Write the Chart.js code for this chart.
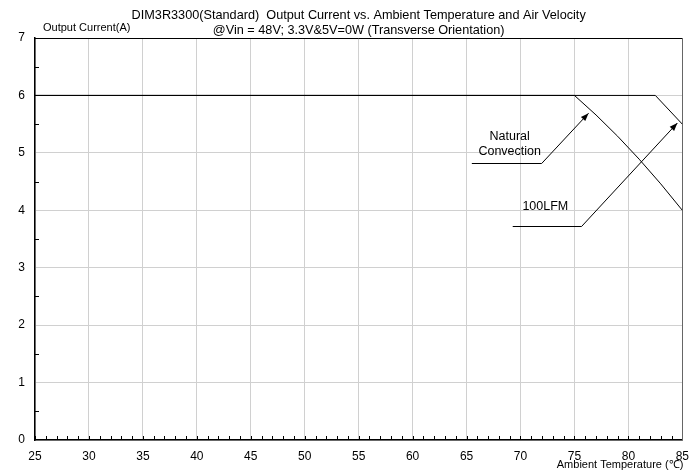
<!DOCTYPE html>
<html>
<head>
<meta charset="utf-8">
<script src="https://cdn.jsdelivr.net/npm/chart.js@4/dist/chart.umd.min.js"></script>
<style>
  html, body { margin: 0; padding: 0; background: #fff; }
  #grafico { display: block; }
</style>
</head>
<body>
<canvas id="grafico" width="698" height="470"></canvas>
<script>
// datos
const naturalTemp = [25, 75, 77, 79, 81, 83, 85];
const naturalCurrent = [6, 6, 5.66, 5.29, 4.89, 4.46, 4];
const lfmTemp = [25, 82.5, 85];
const lfmCurrent = [6, 6, 5.5];

const xTicks = [25, 30, 35, 40, 45, 50, 55, 60, 65, 70, 75, 80, 85];
const yTicks = [0, 1, 2, 3, 4, 5, 6, 7];

const titleLines = [
    'DIM3R3300(Standard)  Output Current vs. Ambient Temperature and Air Velocity',
    '@Vin = 48V; 3.3V&5V=0W (Transverse Orientation)'
];
const yTitle = 'Output Current(A)';
const xTitle = 'Ambient Temperature (\u2103)';

// flechas de las etiquetas, en unidades de los ejes
const callouts = [
    { text: ['Natural', 'Convection'], textAt: [69.0, 5.29], path: [[65.49, 4.82], [71.96, 4.82], [76.31, 5.69]] },
    { text: ['100LFM'], textAt: [72.3, 4.06], path: [[69.28, 3.73], [75.66, 3.73], [84.54, 5.52]] }
];

const FONT = '"Liberation Sans", Arial, sans-serif';

const toPoints = (xs, ys) => xs.map((x, i) => ({ x: x, y: ys[i] }));

const decorPlugin = {
    id: 'decor',
    beforeDatasetsDraw(chart) {
        const { ctx, chartArea: a, scales } = chart;
        const x = scales.x, y = scales.y;
        ctx.save();
        // marcas menores
        ctx.strokeStyle = '#000';
        ctx.lineWidth = 1;
        ctx.beginPath();
        for (let t = xTicks[0]; t <= xTicks[xTicks.length - 1]; t++) {
            const px = Math.round(x.getPixelForValue(t)) + 0.5;
            ctx.moveTo(px, a.bottom);
            ctx.lineTo(px, a.bottom - 4);
        }
        for (let v = 0.5; v < yTicks[yTicks.length - 1]; v += 1) {
            const py = Math.round(y.getPixelForValue(v)) + 0.5;
            ctx.moveTo(a.left, py);
            ctx.lineTo(a.left + 4, py);
        }
        ctx.stroke();
        // borde superior y derecho
        ctx.beginPath();
        ctx.strokeStyle = '#000';
        ctx.moveTo(a.left, Math.round(a.top) + 0.5);
        ctx.lineTo(a.right, Math.round(a.top) + 0.5);
        ctx.stroke();
        ctx.beginPath();
        ctx.strokeStyle = '#666';
        ctx.moveTo(Math.round(a.right) + 0.5, a.top);
        ctx.lineTo(Math.round(a.right) + 0.5, a.bottom);
        ctx.stroke();
        ctx.restore();
    },
    afterDraw(chart) {
        const { ctx, chartArea: a, scales } = chart;
        const x = scales.x, y = scales.y;
        ctx.save();
        ctx.fillStyle = '#000';
        ctx.textAlign = 'center';
        ctx.textBaseline = 'middle';
        ctx.font = '12.7px ' + FONT;
        const cx = (a.left + a.right) / 2;
        ctx.fillText(titleLines[0], cx, 15);
        ctx.fillText(titleLines[1], cx, 30);

        ctx.font = '11px ' + FONT;
        ctx.textAlign = 'left';
        ctx.fillText(yTitle, 43, 28);
        ctx.textAlign = 'right';
        ctx.fillText(xTitle, a.right + 1, 465);

        // etiquetas con flecha
        callouts.forEach(c => {
            ctx.font = '12.5px ' + FONT;
            ctx.textAlign = 'center';
            const tx = x.getPixelForValue(c.textAt[0]);
            const ty = y.getPixelForValue(c.textAt[1]);
            c.text.forEach((line, i) => ctx.fillText(line, tx, ty + i * 15));

            const pts = c.path.map(p => [x.getPixelForValue(p[0]), y.getPixelForValue(p[1])]);
            ctx.strokeStyle = '#000';
            ctx.lineWidth = 1;
            ctx.beginPath();
            ctx.moveTo(pts[0][0], Math.round(pts[0][1]) + 0.5);
            ctx.lineTo(pts[1][0], Math.round(pts[1][1]) + 0.5);
            ctx.lineTo(pts[2][0], pts[2][1]);
            ctx.stroke();
            const [x1, y1] = pts[1];
            const [x2, y2] = pts[2];
            const ang = Math.atan2(y2 - y1, x2 - x1);
            const len = 8, w = 3;
            ctx.beginPath();
            ctx.moveTo(x2, y2);
            ctx.lineTo(x2 - len * Math.cos(ang) + w * Math.sin(ang), y2 - len * Math.sin(ang) - w * Math.cos(ang));
            ctx.lineTo(x2 - len * Math.cos(ang) - w * Math.sin(ang), y2 - len * Math.sin(ang) + w * Math.cos(ang));
            ctx.closePath();
            ctx.fill();
        });
        ctx.restore();
    }
};

const ctx = document.getElementById('grafico').getContext('2d');

new Chart(ctx, {
    type: 'scatter',
    data: {
        datasets: [
            {
                label: 'Natural Convection',
                data: toPoints(naturalTemp, naturalCurrent),
                showLine: true,
                borderColor: '#000',
                borderWidth: 1,
                pointRadius: 0,
                tension: 0
            },
            {
                label: '100LFM',
                data: toPoints(lfmTemp, lfmCurrent),
                showLine: true,
                borderColor: '#000',
                borderWidth: 1,
                pointRadius: 0,
                tension: 0
            }
        ]
    },
    options: {
        responsive: false,
        devicePixelRatio: 1,
        animation: false,
        layout: { padding: { top: 38, right: 14, left: 0, bottom: 0 } },
        plugins: {
            legend: { display: false },
            title: { display: false },
            tooltip: { enabled: false }
        },
        scales: {
            x: {
                type: 'linear',
                min: xTicks[0],
                max: xTicks[xTicks.length - 1],
                afterFit: scale => { scale.height = 30; },
                afterBuildTicks: scale => { scale.ticks = xTicks.map(v => ({ value: v })); },
                ticks: {
                    autoSkip: false,
                    maxRotation: 0,
                    padding: 9,
                    color: '#000',
                    font: { family: FONT, size: 12 }
                },
                grid: { color: '#d0d0d0', lineWidth: 1, drawTicks: false },
                border: { color: '#000', width: 1.5 }
            },
            y: {
                type: 'linear',
                min: yTicks[0],
                max: yTicks[yTicks.length - 1],
                afterFit: scale => { scale.width = 35; },
                afterBuildTicks: scale => { scale.ticks = yTicks.map(v => ({ value: v })); },
                ticks: {
                    autoSkip: false,
                    padding: 10,
                    color: '#000',
                    font: { family: FONT, size: 12 }
                },
                grid: { color: '#d0d0d0', lineWidth: 1, drawTicks: false },
                border: { color: '#000', width: 1.5 }
            }
        }
    },
    plugins: [decorPlugin]
});
</script>
</body>
</html>
